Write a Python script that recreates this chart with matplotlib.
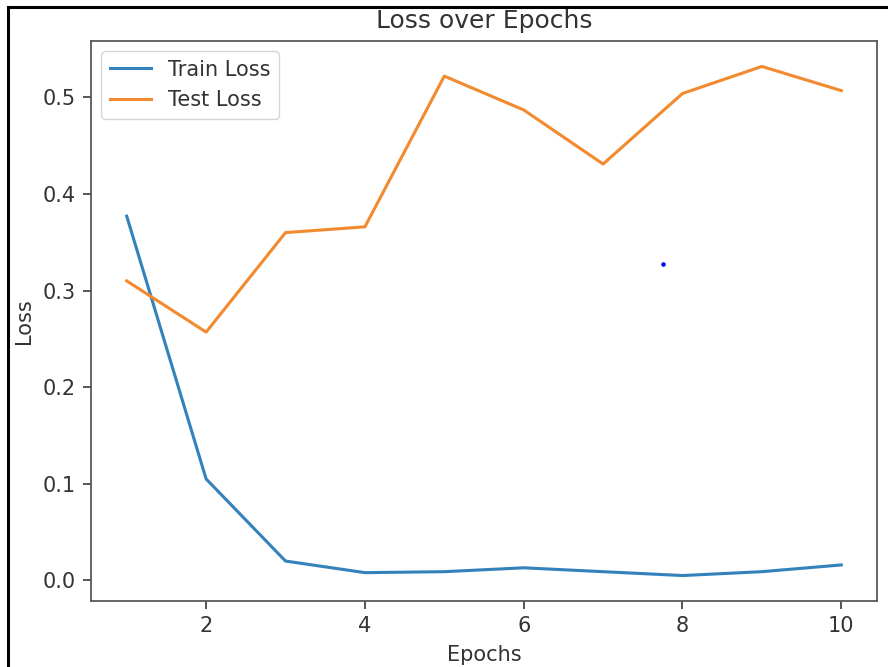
import numpy as np
import matplotlib.pyplot as plt
from matplotlib.patches import Rectangle

epochs = np.arange(1, 11)
train_loss = [0.377, 0.105, 0.020, 0.008, 0.009, 0.013, 0.009, 0.005, 0.009, 0.016]
test_loss = [0.310, 0.257, 0.360, 0.366, 0.522, 0.487, 0.431, 0.504, 0.532, 0.507]

# stray blue dot seen on the screenshot
dot_x = [7.76]
dot_y = [0.327]

s = 1.585  # scale of the screenshot vs default matplotlib sizes
fs = 1.5   # text looks a touch smaller than the line scale
plt.rcParams['font.size'] = 10 * fs
plt.rcParams['axes.linewidth'] = 0.8 * s
plt.rcParams['axes.edgecolor'] = '#555555'
plt.rcParams['text.color'] = '#333333'
plt.rcParams['axes.labelcolor'] = '#333333'
plt.rcParams['xtick.color'] = '#444444'
plt.rcParams['ytick.color'] = '#444444'
plt.rcParams['xtick.labelcolor'] = '#333333'
plt.rcParams['ytick.labelcolor'] = '#333333'

fig = plt.figure(figsize=(8.88, 6.67), dpi=100)
ax = fig.add_axes([91/888, 1-601/667, (877-91)/888, (601-41)/667])

ax.plot(epochs, train_loss, label='Train Loss', color='#3482bb', linewidth=1.4*s)
ax.plot(epochs, test_loss, label='Test Loss', color='#f28a30', linewidth=1.4*s)
ax.scatter(dot_x, dot_y, s=5, color='blue', zorder=3)

ax.set_title('Loss over Epochs', fontsize=12*fs, pad=6*s)
ax.set_xlabel('Epochs', labelpad=4*s)
ax.set_ylabel('Loss', labelpad=4*s)
ax.tick_params(length=3.5*s, width=0.8*s, pad=3.5*s)
ax.legend(loc='upper left')

# black frame of the screenshot
fig.patches.append(Rectangle((8/888, -0.05), 1.05, 1-7/667+0.05, transform=fig.transFigure,
                             fill=False, edgecolor='black', linewidth=2.2))

fig.savefig('out.png', dpi=100)
